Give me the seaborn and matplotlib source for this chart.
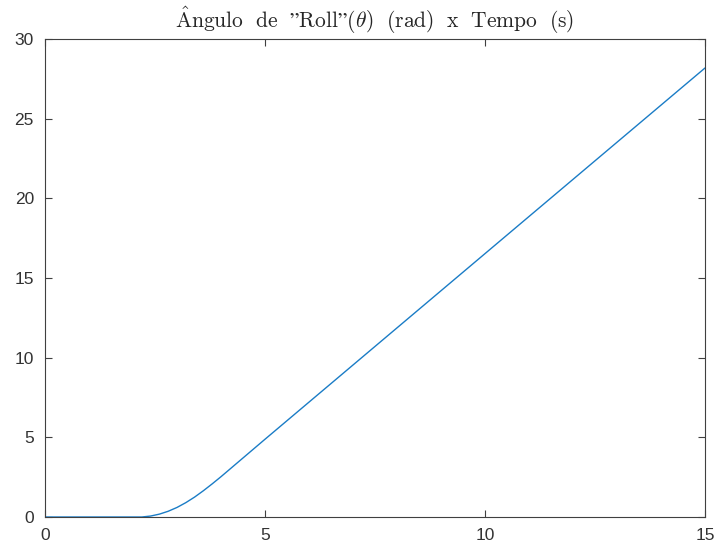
import matplotlib
matplotlib.use("Agg")
import matplotlib.pyplot as plt
import seaborn as sns
import pandas as pd

# Data
tempo = [0, 0.5, 1.0, 1.5, 2.0, 2.2, 2.4, 2.6, 2.8, 3.0, 3.2, 3.4, 3.6, 3.8,
         4.0, 4.2, 4.4, 4.6, 4.8, 5, 6, 7, 8, 9, 10, 11, 12, 13, 14, 15]
roll = [0, 0, 0, 0, 0, 0, 0.06, 0.18, 0.36, 0.6, 0.9, 1.25, 1.65, 2.08,
        2.53, 3.0, 3.47, 3.94, 4.41, 4.88, 7.21, 9.54, 11.87, 14.2, 16.53,
        18.86, 21.19, 23.52, 25.85, 28.18]
x_ticks = [0, 5, 10, 15]
y_ticks = [0, 5, 10, 15, 20, 25, 30]
title_text = (r'$\hat{\mathrm{A}}\mathrm{ngulo\ \ de\ \ ”Roll”}(\theta)'
              r'\ \ \mathrm{(rad)\ \ x\ \ Tempo\ \ (s)}$')

df = pd.DataFrame({"t": tempo, "roll": roll})

sns.set_theme(style="white")
plt.rcParams['font.family'] = ['Liberation Sans', 'DejaVu Sans']
plt.rcParams['mathtext.fontset'] = 'cm'

fig = plt.figure(figsize=(7.18, 5.47), dpi=100)
ax = fig.add_axes([45 / 718, 30 / 547, 660 / 718, 478 / 547])

sns.lineplot(data=df, x="t", y="roll", ax=ax, color="#1a7cc6", linewidth=1.0)

ax.set_xlim(0, 15)
ax.set_ylim(0, 30)
ax.set_xticks(x_ticks)
ax.set_yticks(y_ticks)
ax.set_xlabel("")
ax.set_ylabel("")
ax.set_title(title_text, fontsize=15.5, color="#262626", pad=8)

edge = "#404040"
for s in ax.spines.values():
    s.set_visible(True)
    s.set_color(edge)
    s.set_linewidth(0.8)
ax.tick_params(axis="both", which="both", direction="in", length=5, width=0.8,
               colors=edge, labelcolor="#333333", labelsize=12.5,
               top=True, right=True, bottom=True, left=True)
ax.tick_params(axis="x", pad=8)
ax.tick_params(axis="y", pad=8)

fig.savefig("out.png", dpi=100)
